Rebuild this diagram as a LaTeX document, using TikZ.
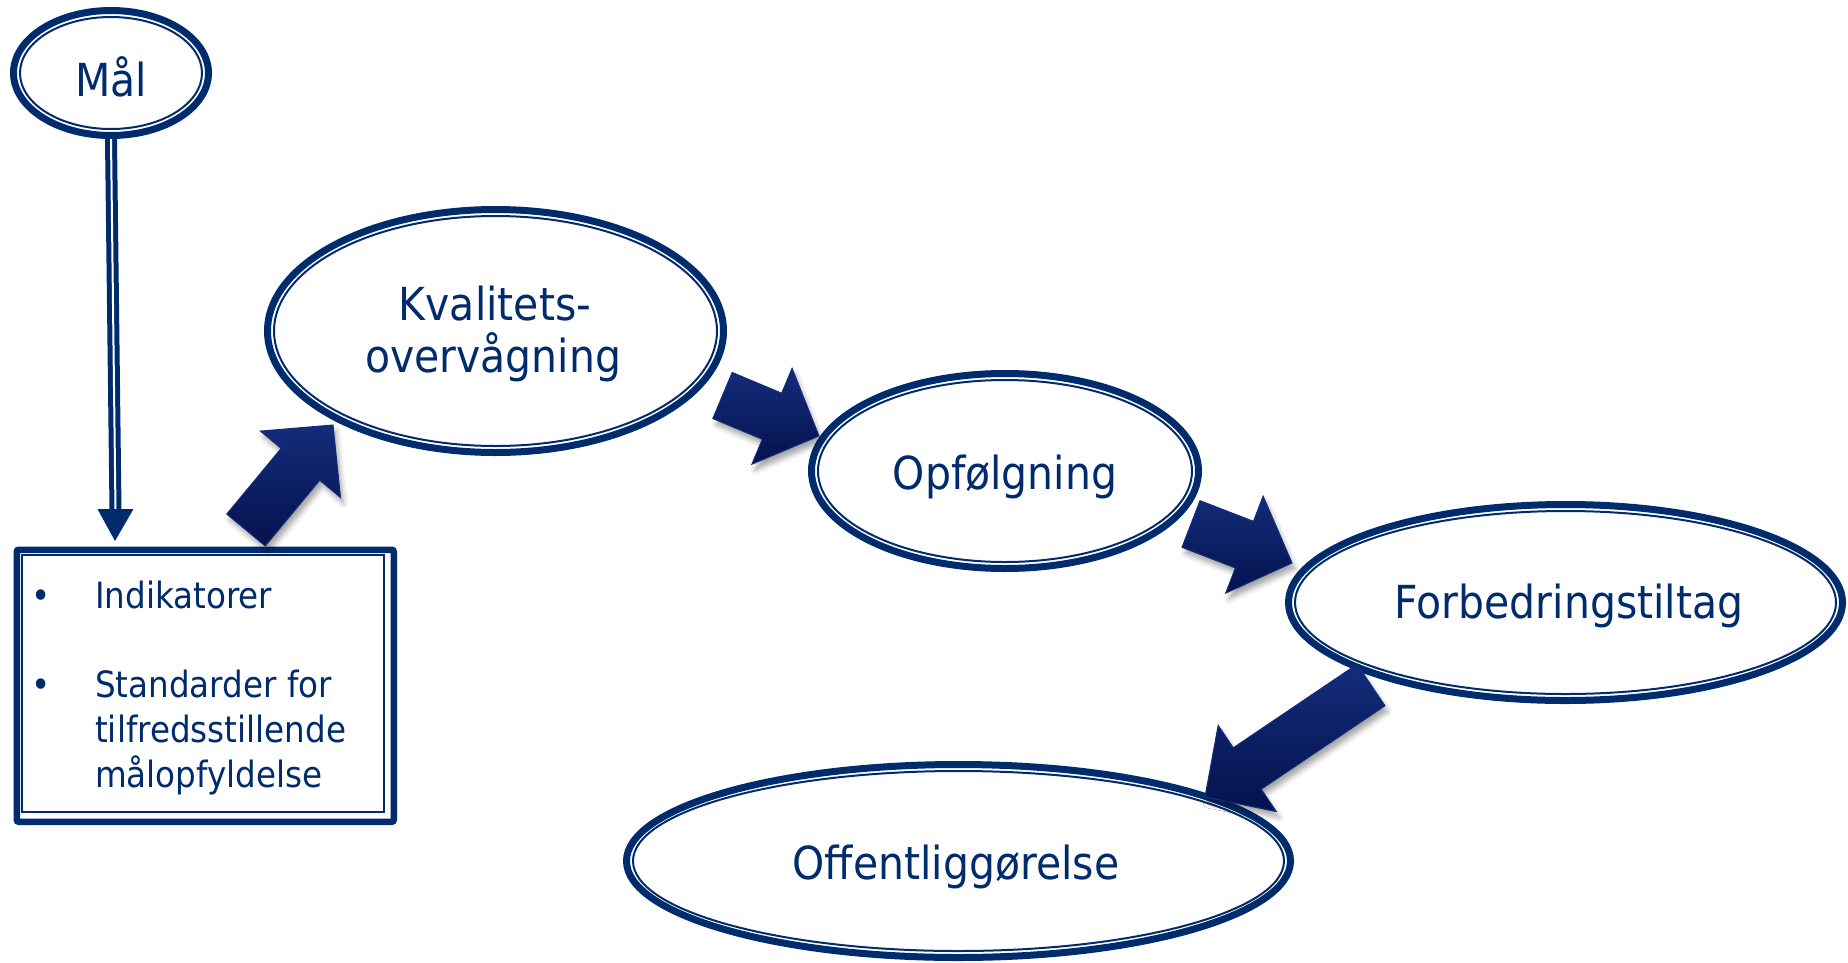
\documentclass[tikz,border=0pt]{standalone}
\usepackage{fontspec}
\setmainfont{DejaVu Sans}[FakeStretch=0.9]
\usetikzlibrary{calc,shapes.geometric,shadows.blur}

\definecolor{navy}{RGB}{0,43,108}
\definecolor{arrowdark}{RGB}{4,18,78}
\definecolor{arrowlight}{RGB}{20,44,122}

\tikzset{
  ring/.style={ellipse, draw=navy, line width=7pt, inner sep=0pt, fill=white},
  bigtext/.style={text=navy, font=\fontsize{45.5}{52}\selectfont, anchor=base, inner sep=0pt},
  smalltext/.style={text=navy, font=\fontsize{36.2}{45}\selectfont, anchor=base west, inner sep=0pt},
  blockfill/.style={draw=arrowlight, line width=1pt, top color=arrowlight, bottom color=arrowdark,
    blur shadow={shadow xshift=3pt, shadow yshift=-6pt, shadow blur radius=5pt, shadow opacity=35}},
}

% thin second line inside a ring
\newcommand\innerring[3]{\draw[navy, line width=2pt] (#1.center) ellipse [x radius=#2, y radius=#3];}

% broad block arrow from tail coordinate #1 to tip coordinate #2
\newcommand\blockarrow[2]{%
  \coordinate (hb) at ($(#2)!51pt!(#1)$);
  \path[blockfill] ($(#1)!25pt!90:(#2)$) -- ($(hb)!25pt!90:(#2)$) -- ($(hb)!52pt!90:(#2)$)
    -- (#2) -- ($(hb)!52pt!-90:(#2)$) -- ($(hb)!25pt!-90:(#2)$) -- ($(#1)!25pt!-90:(#2)$) -- cycle;}

\begin{document}
\begin{tikzpicture}[x=1pt, y=-1pt]
\useasboundingbox (0,0) rectangle (1848,962);

% rings
\node[ring, minimum width=195pt, minimum height=125pt] (mal) at (111,73) {};
\innerring{mal}{91pt}{56pt}
\node[ring, minimum width=456pt, minimum height=243pt] (kv) at (495.5,331) {};
\innerring{kv}{221.5pt}{115pt}
\node[ring, minimum width=387pt, minimum height=195pt] (op) at (1005,471) {};
\innerring{op}{187pt}{91pt}
\node[ring, minimum width=554pt, minimum height=196pt] (fb) at (1565.5,602.5) {};
\innerring{fb}{270.5pt}{91.5pt}
\node[ring, minimum width=664pt, minimum height=193pt] (of) at (958.5,861) {};
\innerring{of}{325.5pt}{90pt}

% framed box with a thin inner frame
\node[draw=navy, line width=6.5pt, rounded corners=2pt, minimum width=377pt, minimum height=272pt,
      inner sep=0pt, anchor=north west] (box) at (13.5,546.5) {};
\node[draw=navy, line width=2pt, minimum width=362pt, minimum height=257pt,
      inner sep=0pt, anchor=north west] (boxin) at (21,554) {};

% texts
\node[bigtext] (maltext) at (111,96) {Mål};
\node[bigtext] (kvtext1) at (495,320) {Kvalitets-};
\node[bigtext] (kvtext2) at (493,372) {overvågning};
\node[bigtext] (optext) at (1005,489) {Opfølgning};
\node[bigtext] (fbtext) at (1569,618) {Forbedringstiltag};
\node[bigtext] (oftext) at (956,879) {Offentliggørelse};

\node[smalltext, anchor=base] (b1) at (41,608) {•};
\node[smalltext] (t1) at (95,608) {Indikatorer};
\node[smalltext, anchor=base] (b2) at (41,697) {•};
\node[smalltext] (t2) at (95,697) {Standarder for};
\node[smalltext] (t3) at (95,742) {tilfredsstillende};
\node[smalltext] (t4) at (95,787) {målopfyldelse};

% arrow from the goal down to the box
\coordinate (vb) at (115.5,510);
\coordinate (vt) at (115,541);
\draw[navy, line width=5pt, double=white, double distance=2pt] (mal.south) -- (vb);
\fill[navy] ($(vb)+(-18,-1)$) -- ($(vb)+(18,-1)$) -- (vt) -- cycle;

% block arrows along the cycle
\coordinate (a1s) at (246,530);   \coordinate (a1e) at (333,425);
\coordinate (a2s) at (722.5,395.5); \coordinate (a2e) at (819,436);
\coordinate (a3s) at (1191,524);  \coordinate (a3e) at (1292,563);
\coordinate (a4s) at (1371,685);  \coordinate (a4e) at (1205,797);
\blockarrow{a1s}{a1e}
\blockarrow{a2s}{a2e}
\blockarrow{a3s}{a3e}
\blockarrow{a4s}{a4e}
\end{tikzpicture}
\end{document}
